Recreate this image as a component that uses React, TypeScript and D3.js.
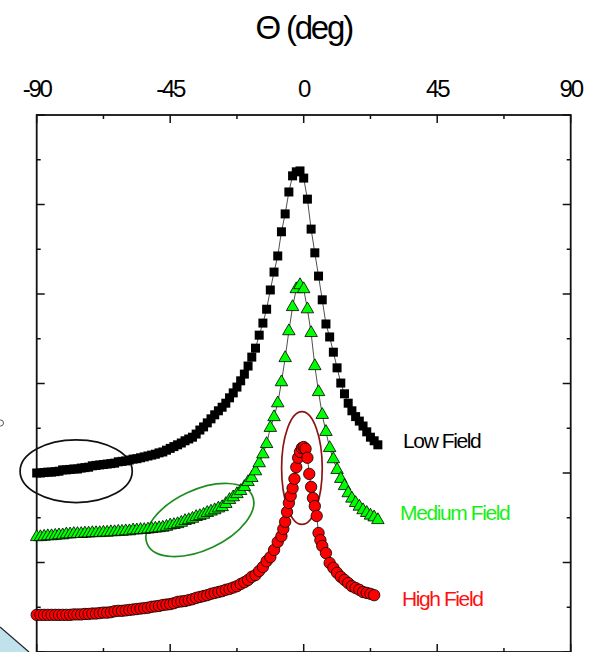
import React, { useEffect, useRef } from 'react';
import * as d3 from 'd3';

// angle (deg), signal (arb. units)
const lowField: [number, number][] = [
  [-90, 4.00], [-88.75, 4.00], [-87.5, 4.01], [-86.25, 4.02], [-85, 4.02], [-83.75, 4.03], [-82.5, 4.04],
  [-81.25, 4.07], [-80, 4.07], [-78.75, 4.08], [-77.5, 4.09], [-76.25, 4.09], [-75, 4.11], [-73.75, 4.12],
  [-72.5, 4.13], [-71.25, 4.16], [-70, 4.17], [-68.75, 4.18], [-67.5, 4.19], [-66.25, 4.20], [-65, 4.21],
  [-63.75, 4.22], [-62.5, 4.25], [-61.25, 4.26], [-60, 4.27], [-58.75, 4.29], [-57.5, 4.31], [-56.25, 4.32],
  [-55, 4.34], [-53.75, 4.36], [-52.5, 4.38], [-51.25, 4.40], [-50, 4.42], [-48.75, 4.45], [-47.5, 4.47],
  [-46.25, 4.51], [-45, 4.55], [-43.75, 4.59], [-42.5, 4.63], [-41.25, 4.67], [-40, 4.72], [-38.75, 4.76],
  [-37.5, 4.80], [-36.25, 4.87], [-35, 4.96], [-33.75, 5.03], [-32.5, 5.12], [-31.25, 5.21], [-30, 5.30],
  [-28.75, 5.39], [-27.5, 5.47], [-26.25, 5.56], [-25, 5.68], [-23.75, 5.79], [-22.5, 5.92], [-21.25, 6.06],
  [-20, 6.21], [-18.75, 6.39], [-17.5, 6.59], [-16.25, 6.79], [-15, 7.08], [-13.75, 7.35], [-12.5, 7.66],
  [-11.25, 8.09], [-10, 8.49], [-8.75, 8.85], [-7.5, 9.39], [-6.25, 9.79], [-5, 10.28], [-3.75, 10.64],
  [-2.5, 10.73], [-1.25, 10.75], [0, 10.59], [1.25, 10.12], [2.5, 9.45], [3.75, 8.92], [5, 8.40],
  [6.25, 7.87], [7.5, 7.33], [8.75, 7.04], [10, 6.70], [11.25, 6.35], [12.5, 6.01], [13.75, 5.77],
  [15, 5.56], [16.25, 5.39], [17.5, 5.26], [18.75, 5.16], [20, 5.05], [21.25, 4.92], [22.5, 4.80],
  [23.75, 4.72], [25, 4.63],
];

const mediumField: [number, number][] = [
  [-90, 2.57], [-88.75, 2.57], [-87.5, 2.58], [-86.25, 2.59], [-85, 2.59], [-83.75, 2.60], [-82.5, 2.61],
  [-81.25, 2.61], [-80, 2.63], [-78.75, 2.63], [-77.5, 2.64], [-76.25, 2.64], [-75, 2.64], [-73.75, 2.65],
  [-72.5, 2.65], [-71.25, 2.66], [-70, 2.66], [-68.75, 2.66], [-67.5, 2.67], [-66.25, 2.67], [-65, 2.68],
  [-63.75, 2.68], [-62.5, 2.69], [-61.25, 2.69], [-60, 2.70], [-58.75, 2.70], [-57.5, 2.72], [-56.25, 2.72],
  [-55, 2.73], [-53.75, 2.73], [-52.5, 2.74], [-51.25, 2.75], [-50, 2.76], [-48.75, 2.77], [-47.5, 2.78],
  [-46.25, 2.80], [-45, 2.83], [-43.75, 2.84], [-42.5, 2.86], [-41.25, 2.89], [-40, 2.93], [-38.75, 2.95],
  [-37.5, 2.98], [-36.25, 3.02], [-35, 3.04], [-33.75, 3.07], [-32.5, 3.11], [-31.25, 3.14], [-30, 3.17],
  [-28.75, 3.21], [-27.5, 3.24], [-26.25, 3.31], [-25, 3.40], [-23.75, 3.46], [-22.5, 3.53], [-21.25, 3.60],
  [-20, 3.69], [-18.75, 3.80], [-17.5, 3.89], [-16.25, 4.04], [-15, 4.22], [-13.75, 4.42], [-12.5, 4.65],
  [-11.25, 5.01], [-10, 5.25], [-8.75, 5.56], [-7.5, 6.03], [-6.25, 6.57], [-5, 7.17], [-3.75, 7.71],
  [-2.5, 8.11], [-1.25, 8.20], [0, 8.11], [1.25, 7.66], [2.5, 7.13], [3.75, 6.39], [5, 5.81],
  [6.25, 5.30], [7.5, 4.92], [8.75, 4.56], [10, 4.31], [11.25, 4.07], [12.5, 3.87], [13.75, 3.71],
  [15, 3.55], [16.25, 3.43], [17.5, 3.33], [18.75, 3.25], [20, 3.17], [21.25, 3.11], [22.5, 3.05],
  [23.75, 3.01], [25, 2.95],
];

const highField: [number, number][] = [
  [-90, 0.83], [-88.75, 0.83], [-87.5, 0.83], [-86.25, 0.83], [-85, 0.83], [-83.75, 0.83], [-82.5, 0.83],
  [-81.25, 0.83], [-80, 0.83], [-78.75, 0.83], [-77.5, 0.84], [-76.25, 0.84], [-75, 0.84], [-73.75, 0.85],
  [-72.5, 0.85], [-71.25, 0.86], [-70, 0.86], [-68.75, 0.87], [-67.5, 0.88], [-66.25, 0.88], [-65, 0.89],
  [-63.75, 0.91], [-62.5, 0.92], [-61.25, 0.92], [-60, 0.93], [-58.75, 0.94], [-57.5, 0.95], [-56.25, 0.96],
  [-55, 0.97], [-53.75, 0.98], [-52.5, 0.99], [-51.25, 1.01], [-50, 1.02], [-48.75, 1.03], [-47.5, 1.05],
  [-46.25, 1.06], [-45, 1.07], [-43.75, 1.09], [-42.5, 1.12], [-41.25, 1.13], [-40, 1.14], [-38.75, 1.16],
  [-37.5, 1.18], [-36.25, 1.21], [-35, 1.23], [-33.75, 1.25], [-32.5, 1.27], [-31.25, 1.30], [-30, 1.32],
  [-28.75, 1.34], [-27.5, 1.36], [-26.25, 1.39], [-25, 1.41], [-23.75, 1.44], [-22.5, 1.47], [-21.25, 1.52],
  [-20, 1.56], [-18.75, 1.61], [-17.5, 1.68], [-16.25, 1.72], [-15, 1.81], [-13.75, 1.90], [-12.5, 2.03],
  [-11.25, 2.12], [-10, 2.28], [-8.75, 2.46], [-7.5, 2.59], [-6.875, 2.75], [-6.25, 2.91], [-5.625, 3.13],
  [-5, 3.33], [-4.375, 3.49], [-3.75, 3.66], [-3.125, 3.87], [-2.5, 4.13], [-1.875, 4.34], [-1.25, 4.47],
  [-0.625, 4.56], [0, 4.58], [0.625, 4.54], [1.25, 4.34], [1.875, 3.98], [2.5, 3.69], [3.125, 3.44],
  [3.75, 3.26], [4.375, 3.04], [5, 2.66], [5.625, 2.50], [6.25, 2.37], [7.5, 2.21], [8.75, 1.99],
  [10, 1.88], [11.25, 1.77], [12.5, 1.68], [13.75, 1.61], [15, 1.54], [16.25, 1.47], [17.5, 1.43],
  [18.75, 1.39], [20, 1.34], [21.25, 1.32], [22.5, 1.30], [23.75, 1.27],
];

const majorThetaTicks = [-90, -45, 0, 45, 90];
const minorThetaTicks = [-67.5, -22.5, 22.5, 67.5];
const majorYTicks = [0, 2, 4, 6, 8, 10, 12];
const minorYTicks = [1, 3, 5, 7, 9, 11];

const seriesLabels = [
  { text: 'Low Field', theta: 33.5, value: 4.56, color: '#000000' },
  { text: 'Medium Field', theta: 32.5, value: 2.95, color: '#14f014' },
  { text: 'High Field', theta: 33.1, value: 1.03, color: '#ff1010' },
];

// hand-drawn ellipses: centre and radii in data units, tilt in degrees
const highlights = [
  { theta: -76.7, value: 4.04, rTheta: 18.9, rValue: 0.70, tilt: 0, color: '#111111' },
  { theta: -35, value: 2.95, rTheta: 19.5, rValue: 0.67, tilt: -25, color: '#1e8c1e' },
  { theta: -0.6, value: 4.11, rTheta: 6.85, rValue: 1.26, tilt: 0, color: '#8e1414' },
];

const FONT = "'Liberation Sans', Arial, sans-serif";

const App = () => {
  const svgRef = useRef<SVGSVGElement>(null);

  useEffect(() => {
    const width = 599;
    const height = 652;
    const svg = d3.select(svgRef.current);
    svg.selectAll('*').remove();

    const x = d3.scaleLinear().domain([-90, 90]).range([36.7, 570.7]);
    const y = d3.scaleLinear().domain([0, 12]).range([652, 115]);

    // stray bits of neighbouring figure
    svg.append('path')
      .attr('d', 'M0,627 L29,652 L0,652 Z')
      .attr('fill', '#bfe2ec')
      .attr('stroke', 'none');
    svg.append('line')
      .attr('x1', 0).attr('y1', 627).attr('x2', 29).attr('y2', 652)
      .attr('stroke', '#222').attr('stroke-width', 1.2);
    svg.append('circle')
      .attr('cx', 0.5).attr('cy', 423).attr('r', 3)
      .attr('fill', 'none').attr('stroke', '#555').attr('stroke-width', 1);

    // title
    svg.append('text')
      .attr('x', x(0))
      .attr('y', 39)
      .attr('text-anchor', 'middle')
      .attr('font-family', FONT)
      .attr('font-size', 33)
      .attr('letter-spacing', -2.2)
      .attr('fill', '#000')
      .text('Θ (deg)');

    // frame
    svg.append('rect')
      .attr('x', x(-90))
      .attr('y', y(12))
      .attr('width', x(90) - x(-90))
      .attr('height', y(0) - y(12))
      .attr('fill', 'none')
      .attr('stroke', '#111')
      .attr('stroke-width', 1.8);

    const tickG = svg.append('g').attr('stroke', '#111').attr('stroke-width', 1.5);
    const drawXTicks = (vals: number[], len: number) => {
      vals.forEach(v => {
        tickG.append('line').attr('x1', x(v)).attr('x2', x(v)).attr('y1', y(12)).attr('y2', y(12) + len);
        tickG.append('line').attr('x1', x(v)).attr('x2', x(v)).attr('y1', y(0)).attr('y2', y(0) - len);
      });
    };
    const drawYTicks = (vals: number[], len: number) => {
      vals.forEach(v => {
        tickG.append('line').attr('x1', x(-90)).attr('x2', x(-90) + len).attr('y1', y(v)).attr('y2', y(v));
        tickG.append('line').attr('x1', x(90)).attr('x2', x(90) - len).attr('y1', y(v)).attr('y2', y(v));
      });
    };
    drawXTicks(majorThetaTicks, 8);
    drawXTicks(minorThetaTicks, 4);
    drawYTicks(majorYTicks, 8);
    drawYTicks(minorYTicks, 4);

    svg.append('g')
      .selectAll('text')
      .data(majorThetaTicks)
      .enter()
      .append('text')
      .attr('x', d => x(d))
      .attr('y', 97)
      .attr('text-anchor', 'middle')
      .attr('font-family', FONT)
      .attr('font-size', 24)
      .attr('letter-spacing', -2.2)
      .attr('fill', '#000')
      .text(d => String(d));

    // highlight ellipses
    highlights.forEach(h => {
      const cx = x(h.theta);
      const cy = y(h.value);
      svg.append('ellipse')
        .attr('cx', 0).attr('cy', 0)
        .attr('rx', x(h.theta + h.rTheta) - cx)
        .attr('ry', cy - y(h.value + h.rValue))
        .attr('transform', `translate(${cx},${cy}) rotate(${h.tilt})`)
        .attr('fill', 'none')
        .attr('stroke', h.color)
        .attr('stroke-width', 1.7);
    });

    const line = d3.line<[number, number]>()
      .x(d => x(d[0]))
      .y(d => y(d[1]));

    const drawLine = (data: [number, number][]) => {
      svg.append('path')
        .datum(data)
        .attr('fill', 'none')
        .attr('stroke', '#222')
        .attr('stroke-width', 0.8)
        .attr('d', line);
    };

    // low field: black squares
    drawLine(lowField);
    svg.append('g')
      .selectAll('rect')
      .data(lowField)
      .enter()
      .append('rect')
      .attr('x', d => x(d[0]) - 4.5)
      .attr('y', d => y(d[1]) - 4.5)
      .attr('width', 9)
      .attr('height', 9)
      .attr('fill', '#000');

    // medium field: green triangles
    drawLine(mediumField);
    const tri = d3.symbol().type(d3.symbolTriangle).size(68);
    svg.append('g')
      .selectAll('path')
      .data(mediumField)
      .enter()
      .append('path')
      .attr('d', tri)
      .attr('transform', d => `translate(${x(d[0])},${y(d[1])})`)
      .attr('fill', '#00ff00')
      .attr('stroke', '#000')
      .attr('stroke-width', 0.8);

    // high field: red circles
    drawLine(highField);
    svg.append('g')
      .selectAll('circle')
      .data(highField)
      .enter()
      .append('circle')
      .attr('cx', d => x(d[0]))
      .attr('cy', d => y(d[1]))
      .attr('r', 5.7)
      .attr('fill', '#ff0000')
      .attr('stroke', '#000')
      .attr('stroke-width', 0.8);

    // series labels
    svg.append('g')
      .selectAll('text')
      .data(seriesLabels)
      .enter()
      .append('text')
      .attr('x', d => x(d.theta))
      .attr('y', d => y(d.value))
      .attr('font-family', FONT)
      .attr('font-size', 21)
      .attr('letter-spacing', -1.4)
      .attr('fill', d => d.color)
      .text(d => d.text);

    svg.attr('width', width).attr('height', height);
  }, []);

  return (
    <div style={{ position: 'absolute', left: 0, top: 0, width: 599, height: 652, overflow: 'hidden', background: '#fff' }}>
      <svg ref={svgRef} width={599} height={652} style={{ display: 'block' }}></svg>
    </div>
  );
};

export default App;
